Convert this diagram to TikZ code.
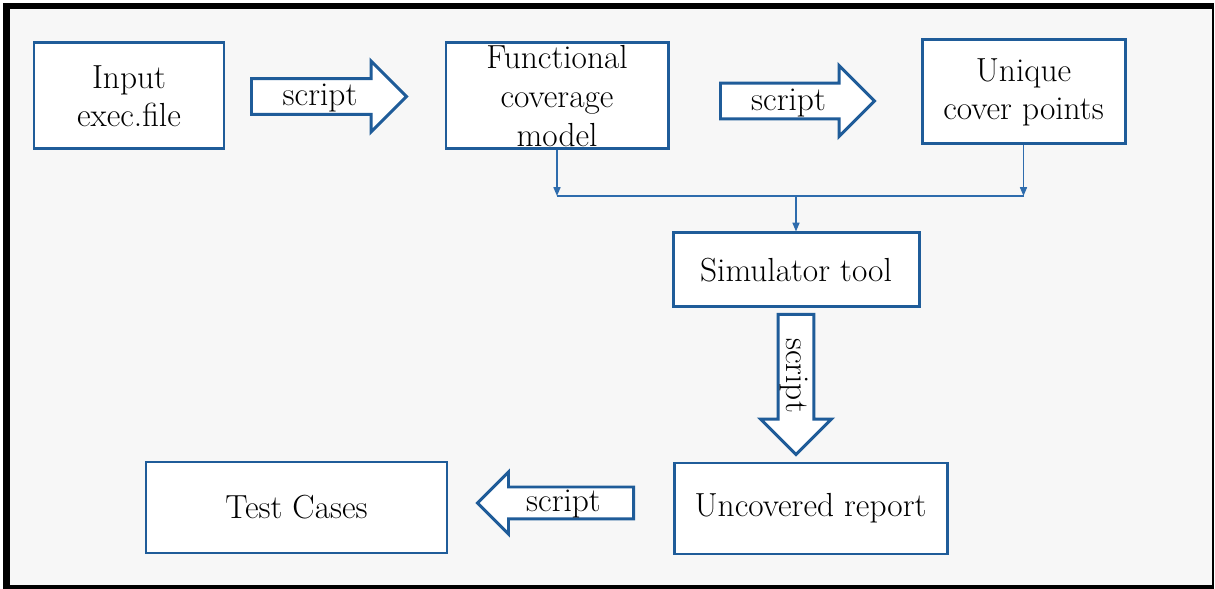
\documentclass[tikz,border=0pt]{standalone}
\usetikzlibrary{arrows.meta, shapes.arrows}
\definecolor{c1}{HTML}{000000}
\definecolor{c2}{HTML}{1F5C99}
\definecolor{c3}{HTML}{2E6CAD}
\definecolor{bgcolor}{HTML}{F7F7F7}

\begin{document}
\begin{tikzpicture}[
    every node/.style={font=\fontsize{19}{21.5}\selectfont},
    box/.style={rectangle, draw=c2, fill=white, line width=1.7pt, align=center, inner sep=0pt},
    fat/.style={single arrow, draw=c2, fill=white, line width=1.7pt,
        single arrow head extend=0.35cm, minimum width=1.36cm,
        text height=13.5pt, text depth=3.2pt, inner ysep=1pt, inner xsep=2pt},
    link/.style={c3, line width=0.8pt, -{Triangle[length=5pt, width=4pt]}},
]
\useasboundingbox (0, 0) rectangle (24.30, 11.78);

% ============================================================ frame
\fill[c1] (0.06, 0.00) rectangle (24.28, 11.72);
\fill[bgcolor] (0.20, 0.08) rectangle (24.24, 11.59);

% ============================================================ top row
\node[box, minimum width=3.80cm, minimum height=2.12cm] (input) at (2.58, 9.86)
    {Input\\ exec.file};
\node[box, minimum width=4.44cm, minimum height=2.12cm,
      font=\fontsize{19}{22}\selectfont] (fcm) at (11.14, 9.86)
    {Functional\\ coverage\\ model};
\node[box, minimum width=4.06cm, minimum height=2.08cm] (uni) at (20.47, 9.94)
    {Unique\\ cover points};

\node[fat, minimum height=3.10cm, anchor=tail] (s1) at (5.00, 9.85) {script};
\node[fat, minimum height=3.08cm, anchor=tail] (s2) at (14.38, 9.76) {script};

% collecting lines
\coordinate (busl) at (11.14, 7.86);
\coordinate (busm) at (15.92, 7.86);
\coordinate (busr) at (20.47, 7.86);
\draw[link] (fcm.south) -- (busl);
\draw[link] (uni.south) -- (busr);
\draw[c3, line width=0.8pt] (busl) -- (busr);

% ============================================================ simulator
\node[box, minimum width=4.92cm, minimum height=1.48cm] (sim) at (15.92, 6.38)
    {Simulator tool};
\draw[link] (busm) -- (sim.north);

\node[fat, rotate=-90, minimum height=2.80cm, minimum width=1.38cm,
      anchor=tail] (s3) at (15.92, 5.52) {script};

% ============================================================ bottom row
\node[box, minimum width=5.46cm, minimum height=1.82cm] (rep) at (16.21, 1.61)
    {Uncovered report};
\node[box, minimum width=6.02cm, minimum height=1.82cm] (test) at (5.93, 1.63)
    {Test Cases};

\node[fat, shape border rotate=180, single arrow head extend=0.30cm,
      minimum width=1.20cm, text height=12.5pt, text depth=3pt, inner ysep=0.5pt,
      minimum height=3.12cm, anchor=tail] (s4) at (12.70, 1.72) {script};

\end{tikzpicture}
\end{document}
